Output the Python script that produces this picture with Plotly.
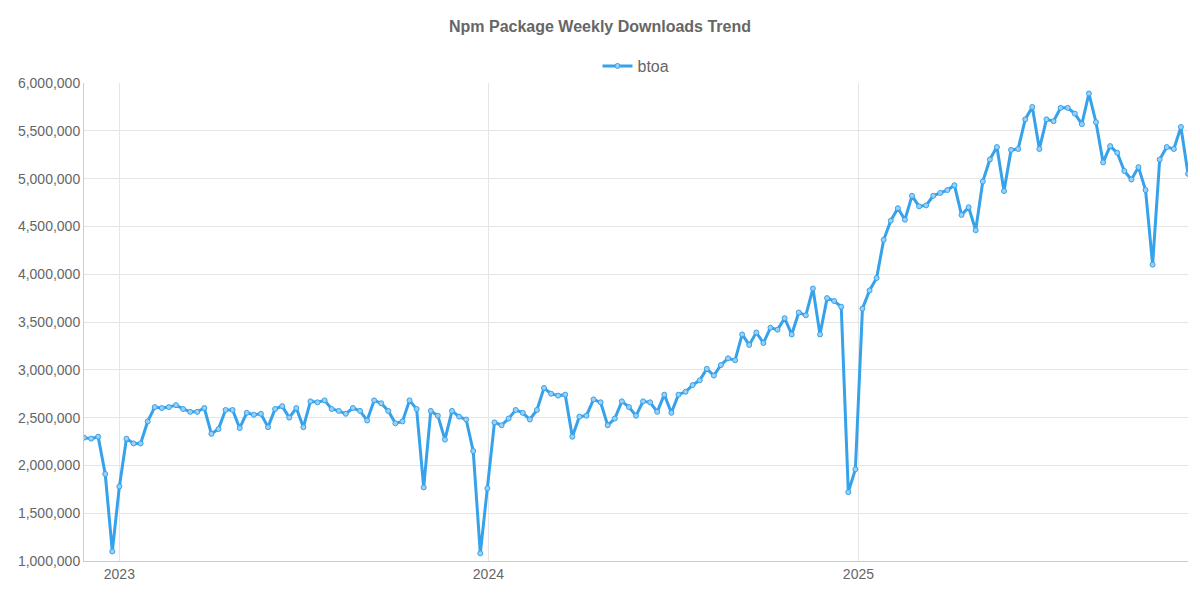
import plotly.graph_objects as go
import pandas as pd

start_date = "2022-11-27"
downloads_m = [
2.29,2.28,2.30,1.91,1.10,1.78,2.28,2.23,2.23,2.46,2.61,2.60,2.61,2.63,2.59,2.56,2.56,2.60,2.33,2.38,
2.58,2.58,2.39,2.55,2.53,2.54,2.40,2.59,2.62,2.50,2.60,2.40,2.67,2.66,2.68,2.59,2.57,2.54,2.60,2.57,
2.47,2.68,2.65,2.57,2.44,2.46,2.68,2.59,1.77,2.57,2.52,2.27,2.57,2.51,2.48,2.15,1.08,1.76,2.45,2.42,
2.49,2.58,2.55,2.48,2.58,2.81,2.75,2.73,2.74,2.30,2.51,2.52,2.69,2.66,2.42,2.49,2.67,2.61,2.52,2.67,
2.66,2.56,2.74,2.55,2.74,2.77,2.84,2.89,3.01,2.94,3.05,3.12,3.10,3.37,3.26,3.39,3.28,3.44,3.42,3.54,
3.37,3.60,3.57,3.85,3.37,3.75,3.72,3.66,1.72,1.96,3.64,3.83,3.96,4.36,4.56,4.69,4.57,4.82,4.71,4.72,
4.82,4.85,4.88,4.93,4.62,4.70,4.46,4.97,5.20,5.33,4.87,5.30,5.31,5.62,5.75,5.31,5.62,5.60,5.74,5.74,
5.68,5.57,5.89,5.59,5.17,5.34,5.27,5.08,4.99,5.12,4.88,4.10,5.20,5.33,5.31,5.54,5.05]
dates = pd.date_range(start_date, periods=len(downloads_m), freq="7D")
date_str = [d.strftime("%Y-%m-%d") for d in dates]
values = [round(v * 1_000_000) for v in downloads_m]

fig = go.Figure(go.Scatter(
    x=date_str, y=values, name="btoa", mode="lines+markers",
    line=dict(color="#36A2EB", width=3),
    marker=dict(size=5, color="rgba(154,208,245,1)", line=dict(color="#36A2EB", width=1)),
))
fig.update_layout(
    autosize=True, paper_bgcolor="white", plot_bgcolor="white",
    font=dict(family="Liberation Sans, Arial", color="#666", size=14),
    title=dict(text="<b>Npm Package Weekly Downloads Trend</b>", x=0.5, y=0.968,
               xanchor="center", yanchor="middle", font=dict(size=16, color="#666")),
    showlegend=True,
    legend=dict(orientation="h", x=0.5, xanchor="center", y=1.0, yanchor="bottom",
                font=dict(size=16, color="#666")),
    margin=dict(l=76, r=4, t=75, b=31),
)
fig.update_xaxes(range=[date_str[0], date_str[-1]], autorange=False, showgrid=True, gridcolor="#e5e5e5",
                 dtick="M12", tick0="2023-01-01", tickformat="%Y", ticks="",
                 showline=True, linecolor="#ccc", tickfont=dict(size=14))
fig.update_yaxes(range=[1_000_000, 6_000_000], dtick=500_000, tickformat=",",
                 showgrid=True, gridcolor="#e5e5e5", zeroline=False,
                 showline=True, linecolor="#ccc", tickfont=dict(size=14))
fig.write_html("out.html", default_width="100%", default_height="100%")
